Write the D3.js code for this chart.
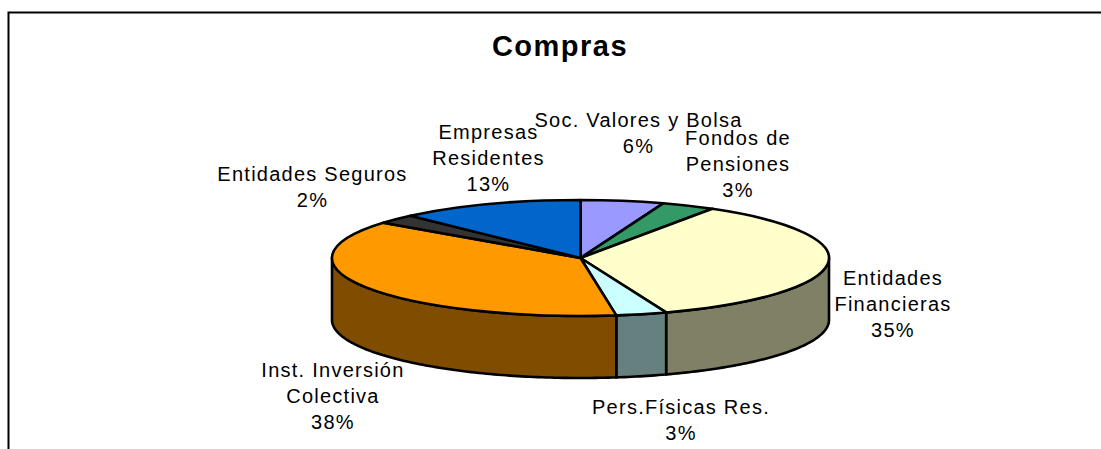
<!DOCTYPE html>
<html>
<head>
<meta charset="utf-8">
<script src="https://cdn.jsdelivr.net/npm/d3@7"></script>
<style>
html,body{margin:0;padding:0;background:#fff;overflow:hidden}
svg{display:block}
text{font-family:"Liberation Sans",Arial,sans-serif;fill:#000}
</style>
</head>
<body>
<svg id="c" width="1101" height="449"></svg>
<script>
const titleText = "Compras";
const categories = [["Soc. Valores y Bolsa"],["Fondos de","Pensiones"],["Entidades","Financieras"],["Pers.Físicas Res."],["Inst. Inversión","Colectiva"],["Entidades Seguros"],["Empresas","Residentes"]];
const percentLabels = ["6%","3%","35%","3%","38%","2%","13%"];
const values = [5.4,3.5,35.5,3.3,37.7,2.6,12.0];
const topColors = ["#9999FF","#339966","#FFFFCC","#CCFFFF","#FF9900","#333333","#0066CC"];
const sideColors = ["#4D4D80","#1A4D33","#808066","#668080","#804D00","#1A1A1A","#003366"];
const labelAnchors = [[638.5,127],[738,145],[893,284.5],[681,413.5],[333,377],[312.5,181],[488.5,138.5]];

const W=1101,H=449,cx=580.5,cy=258,rx=248.5,ry=58,depth=62;
const svg=d3.select("#c");

svg.append("path")
  .attr("d",d3.line()([[8.5,H],[8.5,12.5],[W,12.5]]))
  .attr("fill","none").attr("stroke","#000").attr("stroke-width",2);

svg.append("text").attr("x",560).attr("y",56).attr("text-anchor","middle")
  .attr("font-size",29).attr("font-weight","bold").attr("letter-spacing",1.5).text(titleText);

const arcs=d3.pie().sort(null).value(d=>d)(values);
const px=a=>cx+rx*Math.sin(a), py=a=>cy-ry*Math.cos(a);
const edge=d3.line();
const strokeW=2.6;

// visible wall of each slice: only the part facing the viewer
const g=svg.append("g").attr("stroke","#000").attr("stroke-width",strokeW).attr("stroke-linejoin","round");
arcs.forEach((d,i)=>{
  const a0=Math.max(d.startAngle,Math.PI/2), a1=Math.min(d.endAngle,Math.PI*1.5);
  if(a1<=a0) return;
  const n=Math.max(2,Math.ceil((a1-a0)*60));
  const angles=d3.range(n+1).map(k=>a0+(a1-a0)*k/n);
  const pts=angles.map(a=>[px(a),py(a)]).concat(angles.slice().reverse().map(a=>[px(a),py(a)+depth]));
  g.append("path").attr("d",edge(pts)+"Z").attr("fill",sideColors[i]);
});

// top face: a circular d3.arc squashed into the ellipse
const arc=d3.arc().innerRadius(0).outerRadius(rx);
svg.append("g").attr("transform",`translate(${cx},${cy}) scale(1,${ry/rx})`)
  .selectAll("path").data(arcs).join("path")
  .attr("d",arc).attr("fill",(d,i)=>topColors[i])
  .attr("stroke","#000").attr("stroke-width",strokeW).attr("stroke-linejoin","round")
  .style("vector-effect","non-scaling-stroke");

const lineH=26;
const lab=svg.append("g").attr("font-size",20).attr("letter-spacing",1.25).attr("text-anchor","middle");
categories.forEach((lines,i)=>{
  const [x,y]=labelAnchors[i];
  lines.concat([percentLabels[i]]).forEach((s,k)=>{
    lab.append("text").attr("x",x).attr("y",y+k*lineH).text(s);
  });
});
</script>
</body>
</html>
